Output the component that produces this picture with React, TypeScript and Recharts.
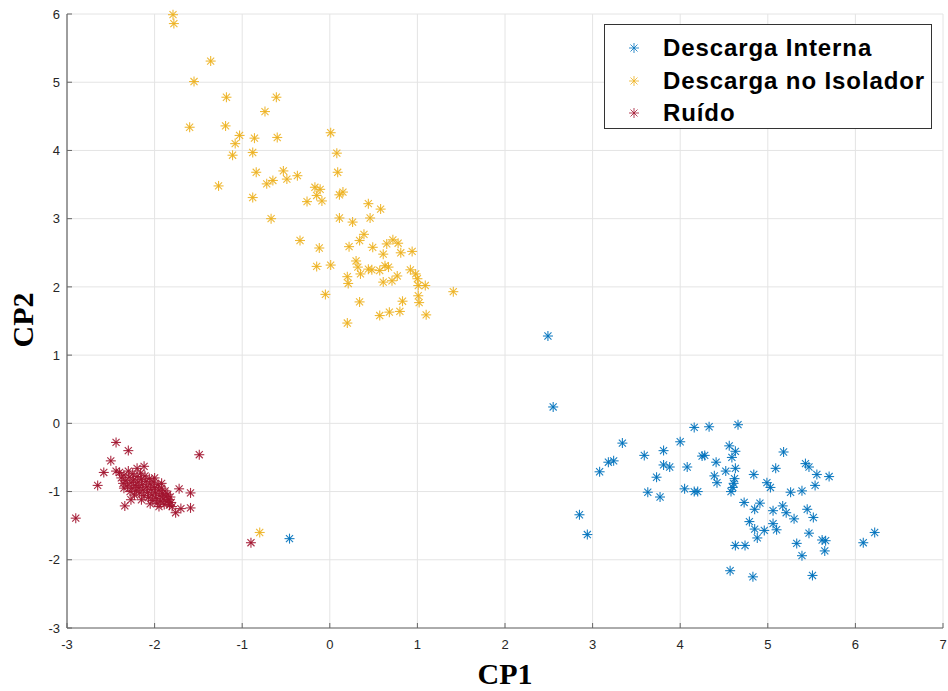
import React from 'react';
import { ScatterChart, Scatter, XAxis, YAxis, CartesianGrid } from 'recharts';

const xTicks = [-3, -2, -1, 0, 1, 2, 3, 4, 5, 6, 7];
const yTicks = [-3, -2, -1, 0, 1, 2, 3, 4, 5, 6];

const seriesNames = ['Descarga Interna', 'Descarga no Isolador', 'Ruído'];
const seriesColors = ['#0072BD', '#EDB120', '#A2142F'];

const descargaInterna: [number, number][] = [
  [2.49, 1.28], [2.55, 0.24], [3.34, -0.29], [3.08, -0.71], [3.18, -0.57], [3.24, -0.55],
  [2.85, -1.34], [2.94, -1.63], [3.59, -0.47], [3.81, -0.40], [3.81, -0.61], [3.88, -0.64],
  [3.73, -0.79], [3.63, -1.01], [3.77, -1.08], [4.0, -0.27], [4.08, -0.64], [4.05, -0.96],
  [4.16, -1.0], [4.2, -1.0], [4.16, -0.06], [4.33, -0.05], [4.66, -0.02], [4.25, -0.48],
  [4.28, -0.47], [4.41, -0.57], [4.39, -0.77], [4.42, -0.87], [4.52, -0.70], [4.56, -0.33],
  [4.63, -0.41], [4.59, -0.50], [4.63, -0.66], [4.62, -0.81], [4.61, -0.88], [4.6, -0.94],
  [4.58, -1.0], [4.73, -1.16], [4.85, -1.26], [4.91, -1.17], [4.79, -1.44], [4.85, -1.55],
  [4.88, -1.68], [4.96, -1.57], [4.63, -1.79], [4.74, -1.79], [4.57, -2.16], [4.83, -2.25],
  [4.84, -0.75], [4.99, -0.87], [5.03, -0.94], [5.09, -0.66], [5.18, -0.42], [5.26, -1.01],
  [5.39, -0.99], [5.43, -0.59], [5.47, -0.64], [5.56, -0.75], [5.7, -0.78], [5.54, -0.91],
  [5.06, -1.28], [5.17, -1.21], [5.21, -1.31], [5.3, -1.40], [5.45, -1.26], [5.52, -1.38],
  [5.06, -1.47], [5.1, -1.56], [5.47, -1.61], [5.33, -1.76], [5.39, -1.94], [5.62, -1.71],
  [5.66, -1.72], [5.65, -1.87], [5.51, -2.23], [6.09, -1.75], [6.22, -1.60], [-0.46, -1.69],
];

const descargaIsolador: [number, number][] = [
  [-1.79, 5.99], [-1.78, 5.86], [-1.36, 5.31], [-1.55, 5.01], [-1.18, 4.78], [-0.61, 4.78],
  [-0.74, 4.57], [-1.6, 4.34], [-1.19, 4.36], [-1.03, 4.22], [-0.86, 4.18], [-0.6, 4.19],
  [0.01, 4.26], [-1.08, 4.1], [-1.11, 3.93], [-0.88, 3.97], [0.08, 3.96], [0.09, 3.68],
  [-0.84, 3.68], [-0.53, 3.7], [-0.49, 3.58], [-0.37, 3.63], [-0.72, 3.51], [-0.65, 3.56],
  [-1.27, 3.48], [-0.88, 3.31], [-0.17, 3.46], [-0.11, 3.43], [-0.15, 3.34], [-0.09, 3.26],
  [-0.26, 3.25], [0.11, 3.35], [0.15, 3.39], [-0.67, 3.0], [0.11, 3.01], [0.26, 2.95],
  [0.44, 3.22], [0.58, 3.14], [0.46, 3.01], [-0.34, 2.68], [-0.12, 2.57], [0.39, 2.77],
  [0.34, 2.68], [0.22, 2.59], [0.49, 2.58], [0.61, 2.48], [0.65, 2.63], [0.72, 2.69],
  [0.78, 2.64], [0.81, 2.5], [0.94, 2.52], [-0.15, 2.3], [0.01, 2.32], [0.3, 2.38],
  [0.32, 2.29], [0.35, 2.19], [0.44, 2.26], [0.48, 2.25], [0.57, 2.24], [0.63, 2.31],
  [0.67, 2.29], [0.61, 2.07], [0.71, 2.09], [0.77, 2.16], [0.2, 2.15], [0.21, 2.05],
  [0.92, 2.25], [0.98, 2.19], [1.0, 2.12], [1.01, 2.02], [1.09, 2.02], [1.01, 1.87],
  [1.02, 1.77], [1.41, 1.93], [-0.05, 1.89], [0.34, 1.78], [0.83, 1.79], [0.8, 1.64],
  [0.68, 1.63], [0.57, 1.58], [1.1, 1.59], [0.2, 1.47], [-0.8, -1.6],
];

const ruido: [number, number][] = [
  [-2.9, -1.39], [-2.44, -0.28], [-2.3, -0.4], [-2.5, -0.55], [-2.58, -0.72], [-2.65, -0.91],
  [-2.12, -0.63], [-1.49, -0.46], [-1.72, -0.96], [-1.59, -1.02], [-1.59, -1.24], [-1.7, -1.25],
  [-1.76, -1.31], [-2.34, -1.21], [-2.27, -1.12], [-0.9, -1.75],
  [-2.4, -0.72], [-2.38, -0.8], [-2.36, -0.88], [-2.35, -0.76], [-2.33, -0.84], [-2.31, -0.92],
  [-2.3, -0.7], [-2.29, -0.79], [-2.27, -0.87], [-2.26, -0.95], [-2.25, -0.74], [-2.24, -0.83],
  [-2.22, -0.91], [-2.21, -0.99], [-2.2, -0.78], [-2.19, -0.86], [-2.18, -0.94], [-2.17, -1.02],
  [-2.16, -0.73], [-2.15, -0.82], [-2.14, -0.9], [-2.13, -0.98], [-2.12, -1.06], [-2.11, -0.77],
  [-2.1, -0.85], [-2.09, -0.93], [-2.08, -1.01], [-2.07, -1.09], [-2.06, -0.81], [-2.05, -0.89],
  [-2.04, -0.97], [-2.03, -1.05], [-2.02, -1.13], [-2.01, -0.86], [-2.0, -0.94], [-1.99, -1.02],
  [-1.98, -1.1], [-1.97, -1.17], [-1.96, -0.9], [-1.95, -0.98], [-1.94, -1.06], [-1.93, -1.14],
  [-1.92, -0.95], [-1.91, -1.03], [-1.9, -1.11], [-1.89, -1.19], [-1.88, -0.99], [-1.87, -1.07],
  [-1.86, -1.15], [-1.85, -1.04], [-1.84, -1.12], [-1.83, -1.2], [-1.82, -1.08], [-1.81, -1.16],
  [-1.8, -1.22], [-2.28, -1.0], [-2.23, -1.05], [-2.15, -1.12], [-2.05, -1.18], [-1.95, -1.22],
  [-2.35, -0.95], [-2.44, -0.7], [-2.0, -0.8], [-1.92, -0.88], [-2.2, -0.66],
];

const toPoints = (arr: [number, number][]) => arr.map(([x, y]) => ({ x, y }));

const makeStar = (color: string) => (props: any) => {
  const { cx, cy } = props;
  if (cx == null || cy == null) return <g />;
  const r = 5;
  const d = r * 0.7071;
  return (
    <g stroke={color} strokeWidth={1.1} strokeOpacity={0.9}>
      <line x1={cx - r} y1={cy} x2={cx + r} y2={cy} />
      <line x1={cx} y1={cy - r} x2={cx} y2={cy + r} />
      <line x1={cx - d} y1={cy - d} x2={cx + d} y2={cy + d} />
      <line x1={cx - d} y1={cy + d} x2={cx + d} y2={cy - d} />
    </g>
  );
};

const emptyShape = () => <g />;

const LegendStar = ({ color }: { color: string }) => (
  <svg width={12} height={12} style={{ position: 'absolute', left: 23, top: 10 }}>
    <g stroke={color} strokeWidth={1} strokeOpacity={0.8}>
      <line x1={1} y1={6} x2={11} y2={6} />
      <line x1={6} y1={1} x2={6} y2={11} />
      <line x1={2.5} y1={2.5} x2={9.5} y2={9.5} />
      <line x1={2.5} y1={9.5} x2={9.5} y2={2.5} />
    </g>
  </svg>
);

const tickStyle = { fontFamily: '"Liberation Sans", Arial, sans-serif', fontSize: 13, fill: '#262626' };
const axisColor = '#666666';

export default function App() {
  const data = [descargaInterna, descargaIsolador, ruido].map(toPoints);
  return (
    <div style={{ position: 'relative', width: 948, height: 691, overflow: 'hidden', background: '#fff' }}>
      <style>{'html,body{margin:0;padding:0;}'}</style>
      <ScatterChart width={948} height={691} margin={{ top: 14, right: 5, left: 27, bottom: 33 }}>
        <CartesianGrid stroke="#e4e4e4" strokeDasharray="" />
        <XAxis
          type="number"
          dataKey="x"
          domain={[-3, 7]}
          ticks={xTicks}
          interval={0}
          height={30}
          tickSize={-5}
          tickMargin={17}
          tick={tickStyle}
          tickLine={{ stroke: axisColor }}
          axisLine={{ stroke: axisColor, strokeWidth: 1.2 }}
        />
        <XAxis
          xAxisId="top"
          orientation="top"
          type="number"
          dataKey="x"
          domain={[-3, 7]}
          ticks={xTicks}
          interval={0}
          height={0}
          tickSize={-5}
          tickFormatter={() => ''}
          tickLine={{ stroke: axisColor }}
          axisLine={{ stroke: axisColor, strokeWidth: 1.2 }}
        />
        <YAxis
          type="number"
          dataKey="y"
          domain={[-3, 6]}
          ticks={yTicks}
          interval={0}
          width={40}
          tickSize={-5}
          tickMargin={12}
          tick={tickStyle}
          tickLine={{ stroke: axisColor }}
          axisLine={{ stroke: axisColor, strokeWidth: 1.2 }}
        />
        <YAxis
          yAxisId="right"
          orientation="right"
          type="number"
          dataKey="y"
          domain={[-3, 6]}
          ticks={yTicks}
          interval={0}
          width={0}
          tickSize={-5}
          tickFormatter={() => ''}
          tickLine={{ stroke: axisColor }}
          axisLine={{ stroke: axisColor, strokeWidth: 1.2 }}
        />
        <Scatter
          xAxisId="top"
          yAxisId="right"
          data={data[0]}
          shape={emptyShape}
          legendType="none"
          isAnimationActive={false}
        />
        {data.map((pts, i) => (
          <Scatter
            key={seriesNames[i]}
            name={seriesNames[i]}
            data={pts}
            fill={seriesColors[i]}
            shape={makeStar(seriesColors[i])}
            isAnimationActive={false}
          />
        ))}
      </ScatterChart>

      <div
        style={{
          position: 'absolute', left: 455, top: 662, width: 100, height: 24, lineHeight: '24px',
          textAlign: 'center', fontFamily: '"Liberation Serif", "Times New Roman", serif',
          fontWeight: 'bold', fontSize: 30, color: '#000',
        }}
      >
        CP1
      </div>
      <div
        style={{
          position: 'absolute', left: -27, top: 305, width: 100, height: 30, lineHeight: '30px',
          textAlign: 'center', fontFamily: '"Liberation Serif", "Times New Roman", serif',
          fontWeight: 'bold', fontSize: 30, color: '#000', transform: 'rotate(-90deg)',
        }}
      >
        CP2
      </div>

      <div
        style={{
          position: 'absolute', left: 604, top: 24, width: 326, height: 103,
          border: '1px solid #333', background: '#fff',
        }}
      >
        {seriesNames.map((name, i) => (
          <div
            key={name}
            style={{
              position: 'absolute', left: 0, top: 7 + i * 32.5, width: 326, height: 32,
            }}
          >
            <LegendStar color={seriesColors[i]} />
            <div
              style={{
                position: 'absolute', left: 58, top: 0, height: 32, lineHeight: '32px',
                fontFamily: '"Liberation Sans", Arial, sans-serif', fontWeight: 'bold',
                fontSize: 24, letterSpacing: 0.9, color: '#000', whiteSpace: 'nowrap',
              }}
            >
              {name}
            </div>
          </div>
        ))}
      </div>
    </div>
  );
}
